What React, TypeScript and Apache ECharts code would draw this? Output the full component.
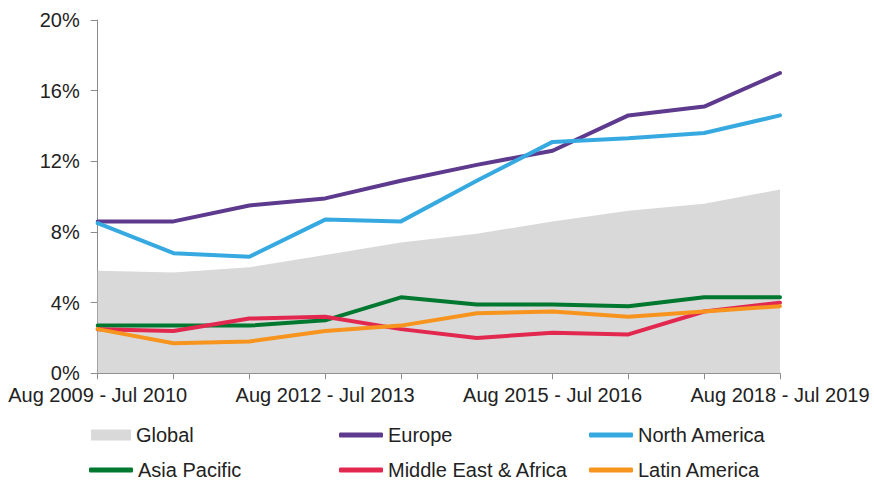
import React, { useEffect, useRef } from "react";
import * as echarts from "echarts";

const categories = [
  "Aug 2009 - Jul 2010",
  "Aug 2010 - Jul 2011",
  "Aug 2011 - Jul 2012",
  "Aug 2012 - Jul 2013",
  "Aug 2013 - Jul 2014",
  "Aug 2014 - Jul 2015",
  "Aug 2015 - Jul 2016",
  "Aug 2016 - Jul 2017",
  "Aug 2017 - Jul 2018",
  "Aug 2018 - Jul 2019",
];

const globalValues = [5.8, 5.7, 6.0, 6.7, 7.4, 7.9, 8.6, 9.2, 9.6, 10.4];
const europeValues = [8.6, 8.6, 9.5, 9.9, 10.9, 11.8, 12.6, 14.6, 15.1, 17.0];
const northAmericaValues = [8.5, 6.8, 6.6, 8.7, 8.6, 10.9, 13.1, 13.3, 13.6, 14.6];
const asiaPacificValues = [2.7, 2.7, 2.7, 3.0, 4.3, 3.9, 3.9, 3.8, 4.3, 4.3];
const meaValues = [2.5, 2.4, 3.1, 3.2, 2.5, 2.0, 2.3, 2.2, 3.5, 4.0];
const latinAmericaValues = [2.5, 1.7, 1.8, 2.4, 2.7, 3.4, 3.5, 3.2, 3.5, 3.8];

const FONT = "'Liberation Sans', Arial, sans-serif";
const TEXT = "#222222";
const AXIS = "#8c8c8c";

const lineSeries = [
  { name: "Europe", data: europeValues, color: "#5e3a8e" },
  { name: "North America", data: northAmericaValues, color: "#36a9e1" },
  { name: "Asia Pacific", data: asiaPacificValues, color: "#00782f" },
  { name: "Middle East & Africa", data: meaValues, color: "#e2284f" },
  { name: "Latin America", data: latinAmericaValues, color: "#f7941e" },
];

const legendPos: Record<string, [number, number]> = {
  Global: [91, 425],
  Europe: [339, 425],
  "North America": [589, 425],
  "Asia Pacific": [89, 460],
  "Middle East & Africa": [339, 460],
  "Latin America": [589, 460],
};

export default function App() {
  const ref = useRef<HTMLDivElement>(null);
  useEffect(() => {
    if (!ref.current) return;
    const chart = echarts.init(ref.current, undefined, { renderer: "svg" });
    const legends: any[] = [
      {
        data: [{ name: "Global", icon: "rect" }],
        left: legendPos.Global[0],
        top: legendPos.Global[1],
        itemWidth: 40,
        itemHeight: 11,
        textStyle: { fontFamily: FONT, fontSize: 20, color: TEXT },
        padding: 0,
      },
      ...lineSeries.map((s) => ({
        data: [{ name: s.name, icon: "roundRect" }],
        left: legendPos[s.name][0],
        top: legendPos[s.name][1],
        itemWidth: 44,
        itemHeight: 5,
        itemStyle: { color: s.color, borderWidth: 0 },
        textStyle: { fontFamily: FONT, fontSize: 20, color: TEXT },
        padding: 0,
      })),
    ];
    chart.setOption({
      animation: false,
      legend: legends,
      grid: { left: 97.7, right: 94, top: 20, bottom: 108.7, containLabel: false },
      xAxis: {
        type: "category",
        data: categories,
        boundaryGap: false,
        axisLine: { show: true, lineStyle: { color: AXIS, width: 1 } },
        axisTick: { show: true, interval: 0, length: 6, lineStyle: { color: AXIS } },
        axisLabel: {
          interval: 2,
          margin: 12,
          fontFamily: FONT,
          fontSize: 20,
          color: TEXT,
        },
        splitLine: { show: false },
      },
      yAxis: {
        type: "value",
        min: 0,
        max: 20,
        interval: 4,
        axisLine: { show: true, lineStyle: { color: AXIS, width: 1 } },
        axisTick: { show: true, length: 7, lineStyle: { color: AXIS } },
        axisLabel: {
          formatter: "{value}%",
          margin: 18,
          fontFamily: FONT,
          fontSize: 20,
          color: TEXT,
        },
        splitLine: { show: false },
      },
      series: [
        {
          name: "Global",
          type: "line",
          data: globalValues,
          symbol: "none",
          lineStyle: { width: 0 },
          itemStyle: { color: "#d9d9d9" },
          areaStyle: { color: "#d9d9d9", opacity: 1 },
          z: 1,
        },
        ...lineSeries.map((s, i) => ({
          name: s.name,
          type: "line",
          data: s.data,
          symbol: "none",
          itemStyle: { color: s.color },
          lineStyle: { color: s.color, width: 4, cap: "round", join: "round" },
          z: 2 + i,
        })),
      ],
    });
    return () => chart.dispose();
  }, []);
  return (
    <div
      ref={ref}
      style={{ position: "fixed", left: 0, top: 0, width: 874, height: 482, background: "#fff" }}
    />
  );
}
